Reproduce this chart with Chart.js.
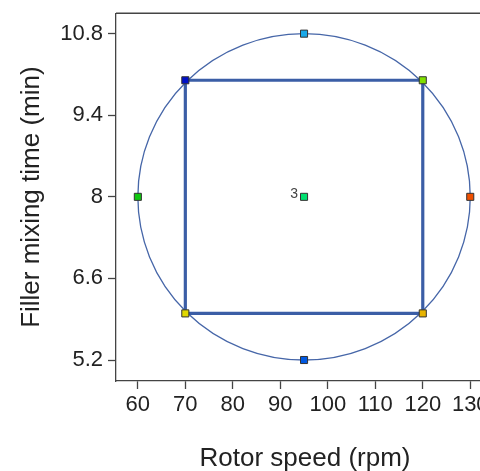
<!DOCTYPE html>
<html>
<head>
<meta charset="utf-8">
<script src="https://cdn.jsdelivr.net/npm/chart.js@4/dist/chart.umd.min.js"></script>
<style>
  html, body { margin: 0; padding: 0; background: #fff; overflow: hidden; }
  #wrap { position: absolute; left: 0; top: 0; width: 500px; height: 471px; }
</style>
</head>
<body>
<div id="wrap"><canvas id="myChart" width="500" height="471"></canvas></div>
<script>
// design points (rotor speed vs filler mixing time)
const rotorSpeed = [70, 120, 70, 120, 60, 130, 95, 95, 95];
const mixingTime = [6, 6, 10, 10, 8, 8, 5.2, 10.8, 8];
const pointColors = ['#e0d800', '#e8b400', '#0010c8', '#80e000', '#10c810', '#f05000', '#0058e0', '#18a8e8', '#00e070'];
const centerRuns = '3';

// factorial square
const squareX = [70, 70, 120, 120, 70];
const squareY = [6, 10, 10, 6, 6];

// tick labels
const xTicks = [60, 70, 80, 90, 100, 110, 120, 130];
const yTicks = [5.2, 6.6, 8, 9.4, 10.8];

const lineBlue = '#3b5ea6';
const axisGray = '#444';

// circle through the axial points + top border + "3" label
const extras = {
    id: 'extras',
    beforeDatasetsDraw(chart) {
        const {ctx, scales: {x, y}} = chart;
        const cx = x.getPixelForValue(rotorSpeed[8]);
        const cy = y.getPixelForValue(mixingTime[8]);
        const rx = x.getPixelForValue(rotorSpeed[5]) - cx;
        const ry = cy - y.getPixelForValue(mixingTime[7]);
        ctx.save();
        ctx.strokeStyle = '#4666a8';
        ctx.lineWidth = 1.3;
        ctx.beginPath();
        ctx.ellipse(cx, cy, rx, ry, 0, 0, Math.PI * 2);
        ctx.stroke();
        ctx.restore();
    },
    afterDraw(chart) {
        const {ctx, chartArea, scales: {x, y}} = chart;
        ctx.save();
        ctx.strokeStyle = axisGray;
        ctx.lineWidth = 1.3;
        ctx.beginPath();
        ctx.moveTo(chartArea.left, chartArea.top);
        ctx.lineTo(chartArea.right, chartArea.top);
        ctx.stroke();
        ctx.fillStyle = '#444';
        ctx.font = '14px "Liberation Sans", Arial, sans-serif';
        ctx.textAlign = 'right';
        ctx.textBaseline = 'middle';
        ctx.fillText(centerRuns, x.getPixelForValue(rotorSpeed[8]) - 6, y.getPixelForValue(mixingTime[8]) - 3);
        ctx.restore();
    }
};

const tickFont = {family: '"Liberation Sans", Arial, sans-serif', size: 22, lineHeight: 0.75};
const titleFont = {family: '"Liberation Sans", Arial, sans-serif', size: 26};

const myChart = new Chart(document.getElementById('myChart'), {
    type: 'scatter',
    data: {
        datasets: [{
            data: squareX.map((v, i) => ({x: v, y: squareY[i]})),
            showLine: true,
            borderColor: lineBlue,
            borderWidth: 3.2,
            pointRadius: 0,
            order: 2
        }, {
            data: rotorSpeed.map((v, i) => ({x: v, y: mixingTime[i]})),
            pointStyle: 'rect',
            pointRadius: 5,
            pointBackgroundColor: pointColors,
            pointBorderColor: '#333',
            pointBorderWidth: 1,
            order: 1
        }]
    },
    options: {
        responsive: false,
        animation: false,
        layout: {padding: {left: 0, top: 12, right: 6, bottom: 0}},
        plugins: {legend: {display: false}, tooltip: {enabled: false}},
        scales: {
            x: {
                min: 55.4,
                max: 135,
                afterBuildTicks: s => { s.ticks = xTicks.map(v => ({value: v})); },
                afterFit: s => { s.height = 90; },
                grid: {drawOnChartArea: false, tickLength: 8, color: axisGray, tickWidth: 1.3},
                border: {color: axisGray, width: 1.3},
                ticks: {font: tickFont, color: '#222', padding: 8, maxRotation: 0, autoSkip: false},
                title: {display: true, text: 'Rotor speed (rpm)', font: titleFont, color: '#222', padding: {top: 0, bottom: -3}}
            },
            y: {
                min: 4.84,
                max: 11.15,
                afterBuildTicks: s => { s.ticks = yTicks.map(v => ({value: v})); },
                afterFit: s => { s.width = 116; },
                grid: {drawOnChartArea: false, tickLength: 8, color: axisGray, tickWidth: 1.3},
                border: {color: axisGray, width: 1.3},
                ticks: {font: tickFont, color: '#222', padding: 5, callback: v => String(v)},
                title: {display: true, text: 'Filler mixing time (min)', font: titleFont, color: '#222', padding: {top: 16, bottom: 0}}
            }
        }
    },
    plugins: [extras]
});
</script>
</body>
</html>
